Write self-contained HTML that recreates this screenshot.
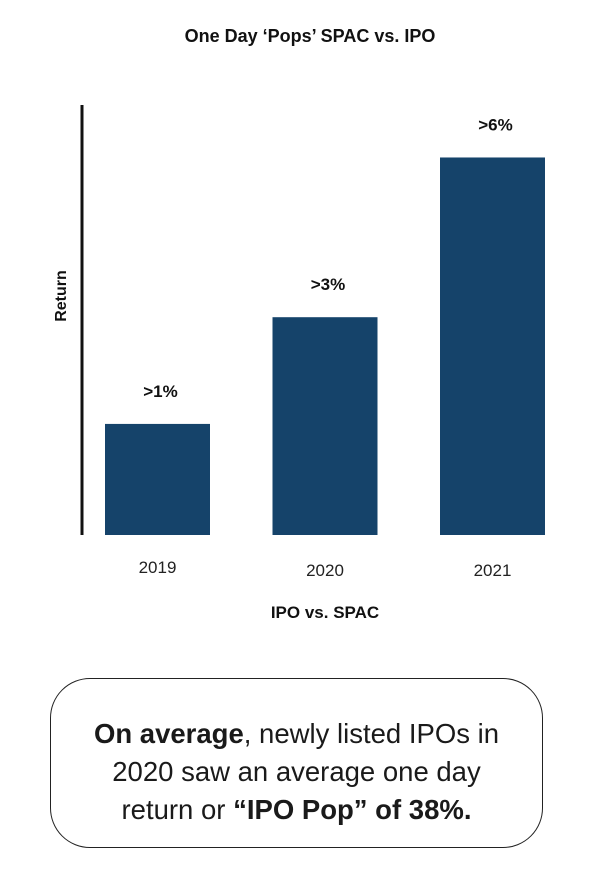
<!DOCTYPE html>
<html><head><meta charset="utf-8"><style>
body{margin:0;width:596px;height:891px;background:#fff;font-family:"Liberation Sans",sans-serif;color:#111;position:relative;overflow:hidden}
.box{position:absolute;left:50px;top:678px;width:493px;height:170px;border:1.5px solid #222;border-radius:40px;box-sizing:border-box;text-align:center;font-size:27.5px;line-height:38px;padding-top:36px;color:#1a1a1a}
</style></head><body>
<svg id="chart" width="596" height="660" style="position:absolute;left:0;top:0"></svg>
<div class="box"><b>On average</b>, newly listed IPOs in<br>2020 saw an average one day<br>return or <b>“IPO Pop” of 38%.</b></div>
<script>
const categories=["2019","2020","2021"];
const values=[1.53,3.0,5.2];
const valueLabels=[">1%",">3%",">6%"];
const svg=document.getElementById('chart');
const NS="http://www.w3.org/2000/svg";
const base=535, scale=72.6;
const y=v=>base-v*scale;
const x=i=>105+i*167.5;
const bw=105;
function el(t,a,txt){const e=document.createElementNS(NS,t);for(const k in a)e.setAttribute(k,a[k]);if(txt!==undefined)e.textContent=txt;svg.appendChild(e);return e;}
let t=el('text',{x:310,y:42,'text-anchor':'middle','font-size':'18','font-weight':'bold',fill:'#111'},'One Day ‘Pops’ SPAC vs. IPO');


let ax=el('line',{x1:82,y1:105,x2:82,y2:535,stroke:'#111','stroke-width':3});


let yt=el('text',{x:0,y:0,transform:'translate(66,296) rotate(-90)','text-anchor':'middle','font-size':'16','font-weight':'bold',fill:'#111'},'Return');


let xt=el('text',{x:325,y:618,'text-anchor':'middle','font-size':'17','font-weight':'bold',fill:'#111'},'IPO vs. SPAC');


categories.forEach((c,i)=>{
 const b=el('rect',{x:x(i),y:y(values[i]),width:bw,height:base-y(values[i]),fill:'#15436a'});
 
 
 const l=el('text',{x:x(i)+bw/2+3,y:y(values[i])-27,'text-anchor':'middle','font-size':'17','font-weight':'bold',fill:'#111'},valueLabels[i]);
 
 
 const k=el('text',{x:x(i)+bw/2,y:573+(i?3:0),'text-anchor':'middle','font-size':'17',fill:'#222'},c);
 
 
});
</script>
</body></html>
